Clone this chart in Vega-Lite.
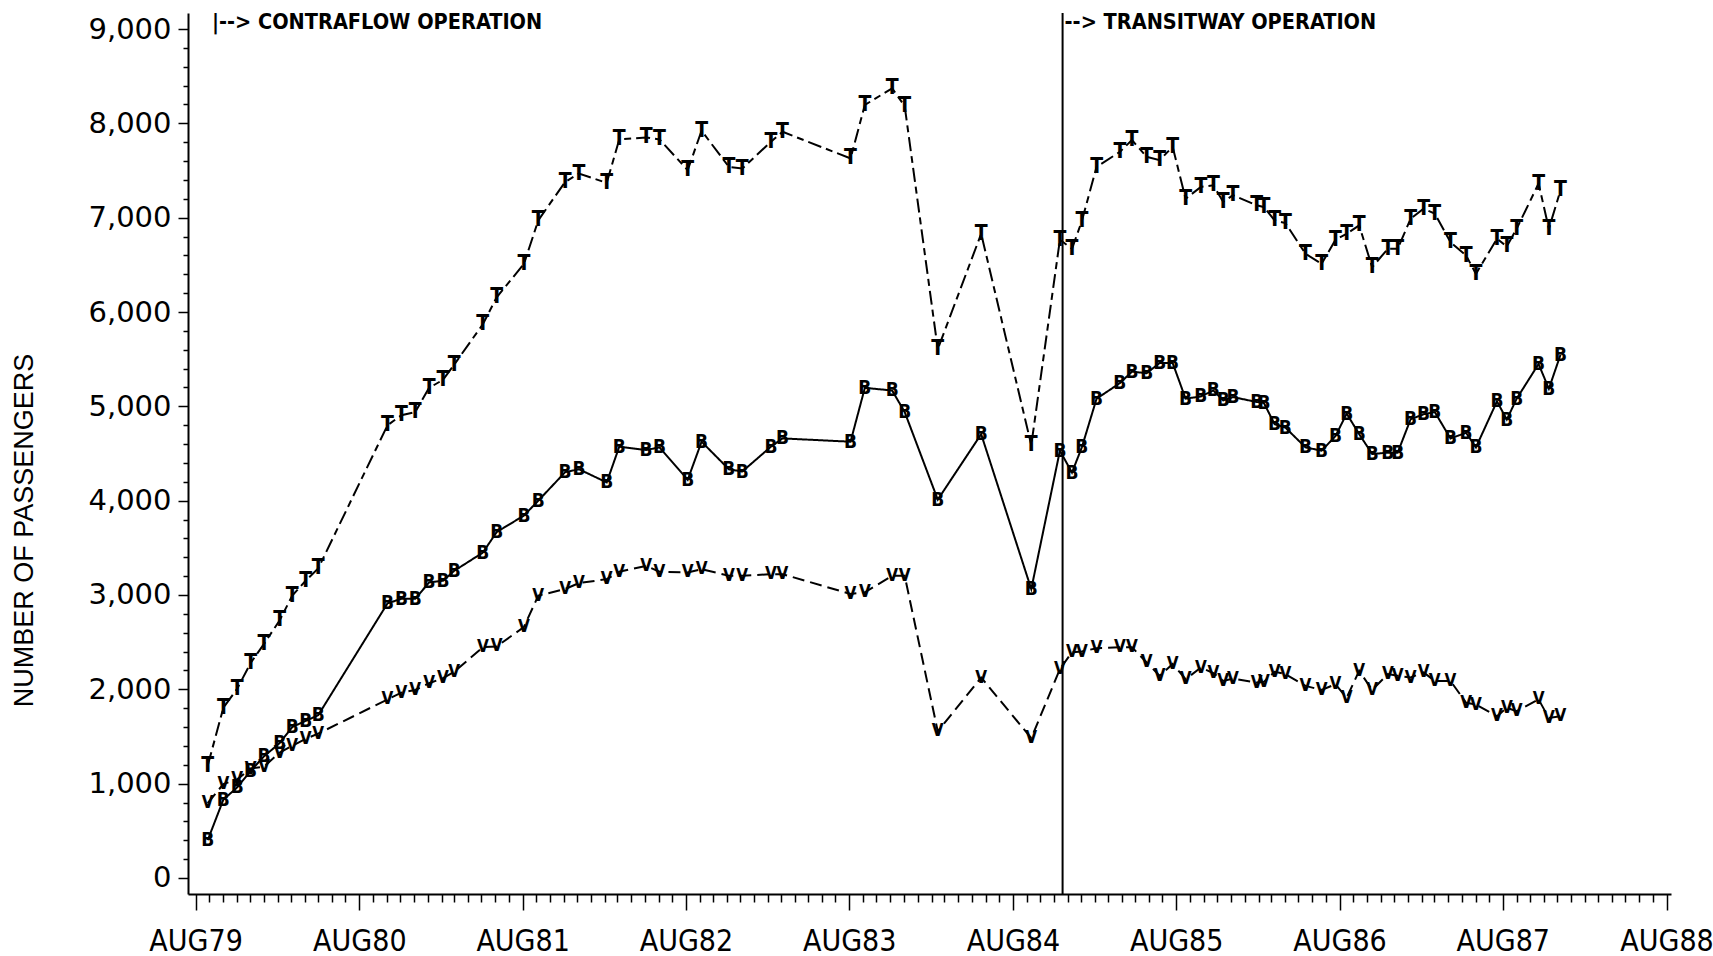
{
  "$schema": "https://vega.github.io/schema/vega-lite/v6.json",
  "width": 1483,
  "height": 881,
  "autosize": {"type": "none"},
  "padding": {"left": 188, "top": 13, "right": 42, "bottom": 62},
  "background": "white",
  "config": {
    "view": {"stroke": null},
    "axis": {"grid": false, "domainColor": "black", "tickColor": "black", "labelColor": "black", "titleColor": "black"}
  },
  "datasets": {
    "events": [
      {"date": "1979-09-02", "kind": "contraflow", "label": "|--> CONTRAFLOW OPERATION"},
      {"date": "1984-11-20", "kind": "transitway", "label": "--> TRANSITWAY OPERATION"}
    ],
    "passengers": [
      {"date":"1979-08-28","series":"T","value":1190},{"date":"1979-10-02","series":"T","value":1804},{"date":"1979-11-02","series":"T","value":2007},{"date":"1979-12-02","series":"T","value":2279},{"date":"1980-01-01","series":"T","value":2482},{"date":"1980-02-05","series":"T","value":2732},{"date":"1980-03-04","series":"T","value":2993},{"date":"1980-04-03","series":"T","value":3151},{"date":"1980-05-01","series":"T","value":3281},
      {"date":"1980-10-03","series":"T","value":4800},{"date":"1980-11-03","series":"T","value":4905},{"date":"1980-12-04","series":"T","value":4940},{"date":"1981-01-04","series":"T","value":5196},{"date":"1981-02-04","series":"T","value":5281},{"date":"1981-03-01","series":"T","value":5442},
      {"date":"1981-05-04","series":"T","value":5870},{"date":"1981-06-04","series":"T","value":6156},{"date":"1981-08-04","series":"T","value":6511},{"date":"1981-09-05","series":"T","value":6972},{"date":"1981-11-04","series":"T","value":7379},{"date":"1981-12-05","series":"T","value":7468},
      {"date":"1982-02-05","series":"T","value":7369},{"date":"1982-03-05","series":"T","value":7830},{"date":"1982-05-04","series":"T","value":7851},{"date":"1982-06-03","series":"T","value":7830},{"date":"1982-08-05","series":"T","value":7504},{"date":"1982-09-05","series":"T","value":7922},{"date":"1982-11-05","series":"T","value":7539},{"date":"1982-12-05","series":"T","value":7521},{"date":"1983-02-07","series":"T","value":7805},{"date":"1983-03-05","series":"T","value":7911},
      {"date":"1983-08-04","series":"T","value":7628},{"date":"1983-09-05","series":"T","value":8195},{"date":"1983-11-05","series":"T","value":8372},{"date":"1983-12-03","series":"T","value":8184},{"date":"1984-02-15","series":"T","value":5607},{"date":"1984-05-22","series":"T","value":6830},{"date":"1984-09-11","series":"T","value":4589},{"date":"1984-11-14","series":"T","value":6766},
      {"date":"1984-12-11","series":"T","value":6670},{"date":"1985-01-02","series":"T","value":6965},{"date":"1985-02-04","series":"T","value":7539},{"date":"1985-03-28","series":"T","value":7698},{"date":"1985-04-24","series":"T","value":7823},{"date":"1985-05-27","series":"T","value":7645},{"date":"1985-06-25","series":"T","value":7610},{"date":"1985-07-24","series":"T","value":7752},{"date":"1985-08-22","series":"T","value":7200},
      {"date":"1985-09-25","series":"T","value":7326},{"date":"1985-10-23","series":"T","value":7344},{"date":"1985-11-14","series":"T","value":7167},{"date":"1985-12-06","series":"T","value":7238},{"date":"1986-01-28","series":"T","value":7131},{"date":"1986-02-13","series":"T","value":7113},{"date":"1986-03-09","series":"T","value":6972},{"date":"1986-04-02","series":"T","value":6943},
      {"date":"1986-05-17","series":"T","value":6617},{"date":"1986-06-22","series":"T","value":6511},{"date":"1986-07-23","series":"T","value":6766},{"date":"1986-08-17","series":"T","value":6830},{"date":"1986-09-14","series":"T","value":6918},{"date":"1986-10-13","series":"T","value":6475},{"date":"1986-11-17","series":"T","value":6670},{"date":"1986-12-09","series":"T","value":6670},
      {"date":"1987-01-07","series":"T","value":6989},{"date":"1987-02-05","series":"T","value":7096},{"date":"1987-03-02","series":"T","value":7043},{"date":"1987-04-06","series":"T","value":6741},{"date":"1987-05-11","series":"T","value":6599},{"date":"1987-06-02","series":"T","value":6404},{"date":"1987-07-19","series":"T","value":6777},{"date":"1987-08-10","series":"T","value":6695},{"date":"1987-09-01","series":"T","value":6883},{"date":"1987-10-20","series":"T","value":7362},{"date":"1987-11-12","series":"T","value":6883},{"date":"1987-12-08","series":"T","value":7291},

      {"date":"1979-08-28","series":"B","value":400},{"date":"1979-10-02","series":"B","value":830},{"date":"1979-11-02","series":"B","value":960},{"date":"1979-12-02","series":"B","value":1135},{"date":"1980-01-01","series":"B","value":1290},{"date":"1980-02-05","series":"B","value":1430},{"date":"1980-03-04","series":"B","value":1600},{"date":"1980-04-03","series":"B","value":1665},{"date":"1980-05-01","series":"B","value":1725},
      {"date":"1980-10-03","series":"B","value":2911},{"date":"1980-11-03","series":"B","value":2960},{"date":"1980-12-04","series":"B","value":2960},{"date":"1981-01-04","series":"B","value":3133},{"date":"1981-02-04","series":"B","value":3151},{"date":"1981-03-01","series":"B","value":3256},
      {"date":"1981-05-04","series":"B","value":3449},{"date":"1981-06-04","series":"B","value":3667},{"date":"1981-08-04","series":"B","value":3842},{"date":"1981-09-05","series":"B","value":4000},{"date":"1981-11-04","series":"B","value":4302},{"date":"1981-12-05","series":"B","value":4333},
      {"date":"1982-02-05","series":"B","value":4193},{"date":"1982-03-05","series":"B","value":4572},{"date":"1982-05-04","series":"B","value":4537},{"date":"1982-06-03","series":"B","value":4565},{"date":"1982-08-05","series":"B","value":4221},{"date":"1982-09-05","series":"B","value":4625},{"date":"1982-11-05","series":"B","value":4333},{"date":"1982-12-05","series":"B","value":4309},{"date":"1983-02-07","series":"B","value":4572},{"date":"1983-03-05","series":"B","value":4660},
      {"date":"1983-08-04","series":"B","value":4625},{"date":"1983-09-05","series":"B","value":5196},{"date":"1983-11-05","series":"B","value":5168},{"date":"1983-12-03","series":"B","value":4940},{"date":"1984-02-15","series":"B","value":4011},{"date":"1984-05-22","series":"B","value":4705},{"date":"1984-09-11","series":"B","value":3063},{"date":"1984-11-14","series":"B","value":4530},
      {"date":"1984-12-11","series":"B","value":4298},{"date":"1985-01-02","series":"B","value":4565},{"date":"1985-02-04","series":"B","value":5081},{"date":"1985-03-28","series":"B","value":5246},{"date":"1985-04-24","series":"B","value":5368},{"date":"1985-05-27","series":"B","value":5351},{"date":"1985-06-25","series":"B","value":5460},{"date":"1985-07-24","series":"B","value":5460},{"date":"1985-08-22","series":"B","value":5081},
      {"date":"1985-09-25","series":"B","value":5105},{"date":"1985-10-23","series":"B","value":5168},{"date":"1985-11-14","series":"B","value":5063},{"date":"1985-12-06","series":"B","value":5098},{"date":"1986-01-28","series":"B","value":5046},{"date":"1986-02-13","series":"B","value":5035},{"date":"1986-03-09","series":"B","value":4811},{"date":"1986-04-02","series":"B","value":4775},
      {"date":"1986-05-17","series":"B","value":4565},{"date":"1986-06-22","series":"B","value":4530},{"date":"1986-07-23","series":"B","value":4684},{"date":"1986-08-17","series":"B","value":4923},{"date":"1986-09-14","series":"B","value":4705},{"date":"1986-10-13","series":"B","value":4495},{"date":"1986-11-17","series":"B","value":4509},{"date":"1986-12-09","series":"B","value":4509},
      {"date":"1987-01-07","series":"B","value":4863},{"date":"1987-02-05","series":"B","value":4916},{"date":"1987-03-02","series":"B","value":4940},{"date":"1987-04-06","series":"B","value":4660},{"date":"1987-05-11","series":"B","value":4719},{"date":"1987-06-02","series":"B","value":4565},{"date":"1987-07-19","series":"B","value":5053},{"date":"1987-08-10","series":"B","value":4860},{"date":"1987-09-01","series":"B","value":5081},{"date":"1987-10-20","series":"B","value":5449},{"date":"1987-11-12","series":"B","value":5186},{"date":"1987-12-08","series":"B","value":5547},

      {"date":"1979-08-28","series":"V","value":793},{"date":"1979-10-02","series":"V","value":995},{"date":"1979-11-02","series":"V","value":1045},{"date":"1979-12-02","series":"V","value":1160},{"date":"1980-01-01","series":"V","value":1180},{"date":"1980-02-05","series":"V","value":1330},{"date":"1980-03-04","series":"V","value":1400},{"date":"1980-04-03","series":"V","value":1475},{"date":"1980-05-01","series":"V","value":1530},
      {"date":"1980-10-03","series":"V","value":1893},{"date":"1980-11-03","series":"V","value":1964},{"date":"1980-12-04","series":"V","value":1993},{"date":"1981-01-04","series":"V","value":2064},{"date":"1981-02-04","series":"V","value":2118},{"date":"1981-03-01","series":"V","value":2186},
      {"date":"1981-05-04","series":"V","value":2446},{"date":"1981-06-04","series":"V","value":2454},{"date":"1981-08-04","series":"V","value":2661},{"date":"1981-09-05","series":"V","value":2993},{"date":"1981-11-04","series":"V","value":3063},{"date":"1981-12-05","series":"V","value":3126},
      {"date":"1982-02-05","series":"V","value":3168},{"date":"1982-03-05","series":"V","value":3246},{"date":"1982-05-04","series":"V","value":3309},{"date":"1982-06-03","series":"V","value":3246},{"date":"1982-08-05","series":"V","value":3239},{"date":"1982-09-05","series":"V","value":3274},{"date":"1982-11-05","series":"V","value":3204},{"date":"1982-12-05","series":"V","value":3204},{"date":"1983-02-07","series":"V","value":3221},{"date":"1983-03-05","series":"V","value":3221},
      {"date":"1983-08-04","series":"V","value":3011},{"date":"1983-09-05","series":"V","value":3028},{"date":"1983-11-05","series":"V","value":3204},{"date":"1983-12-03","series":"V","value":3204},{"date":"1984-02-15","series":"V","value":1554},{"date":"1984-05-22","series":"V","value":2125},{"date":"1984-09-11","series":"V","value":1482},{"date":"1984-11-14","series":"V","value":2214},
      {"date":"1984-12-11","series":"V","value":2393},{"date":"1985-01-02","series":"V","value":2400},{"date":"1985-02-04","series":"V","value":2436},{"date":"1985-03-28","series":"V","value":2446},{"date":"1985-04-24","series":"V","value":2446},{"date":"1985-05-27","series":"V","value":2286},{"date":"1985-06-25","series":"V","value":2143},{"date":"1985-07-24","series":"V","value":2268},{"date":"1985-08-22","series":"V","value":2107},
      {"date":"1985-09-25","series":"V","value":2230},{"date":"1985-10-23","series":"V","value":2171},{"date":"1985-11-14","series":"V","value":2089},{"date":"1985-12-06","series":"V","value":2114},{"date":"1986-01-28","series":"V","value":2071},{"date":"1986-02-13","series":"V","value":2079},{"date":"1986-03-09","series":"V","value":2186},{"date":"1986-04-02","series":"V","value":2161},
      {"date":"1986-05-17","series":"V","value":2036},{"date":"1986-06-22","series":"V","value":1993},{"date":"1986-07-23","series":"V","value":2054},{"date":"1986-08-17","series":"V","value":1911},{"date":"1986-09-14","series":"V","value":2196},{"date":"1986-10-13","series":"V","value":1993},{"date":"1986-11-17","series":"V","value":2161},{"date":"1986-12-09","series":"V","value":2143},
      {"date":"1987-01-07","series":"V","value":2125},{"date":"1987-02-05","series":"V","value":2179},{"date":"1987-03-02","series":"V","value":2089},{"date":"1987-04-06","series":"V","value":2089},{"date":"1987-05-11","series":"V","value":1857},{"date":"1987-06-02","series":"V","value":1839},{"date":"1987-07-19","series":"V","value":1714},{"date":"1987-08-10","series":"V","value":1804},{"date":"1987-09-01","series":"V","value":1768},{"date":"1987-10-20","series":"V","value":1893},{"date":"1987-11-12","series":"V","value":1696},{"date":"1987-12-08","series":"V","value":1714}
    ]
  },
  "encoding": {
    "x": {
      "field": "date",
      "type": "temporal",
      "scale": {
        "type": "utc",
        "domain": [{"year": 1979, "month": 7, "date": 15, "utc": true}, {"year": 1988, "month": 8, "date": 11, "utc": true}]
      },
      "axis": {
        "title": null,
        "orient": "bottom",
        "tickCount": {"interval": "month", "step": 1},
        "tickSize": {"condition": {"test": "utcmonth(datum.value) == 7", "value": 16}, "value": 8},
        "tickWidth": 1.5,
        "domainWidth": 2,
        "labelExpr": "utcmonth(datum.value) == 7 ? upper(utcFormat(datum.value, '%b%y')) : ''",
        "labelOverlap": false,
        "labelFlush": false,
        "labelPadding": 16,
        "labelFont": "DejaVu Sans Condensed, Liberation Sans Narrow, Liberation Sans",
        "labelFontSize": 30,
        "labelFontWeight": "normal"
      }
    }
  },
  "layer": [
    {
      "data": {"name": "events"},
      "transform": [{"filter": "datum.kind == 'transitway'"}],
      "mark": {"type": "rule", "color": "black", "strokeWidth": 2},
      "encoding": {}
    },
    {
      "data": {"name": "passengers"},
      "mark": {"type": "line", "color": "black", "strokeWidth": 2},
      "encoding": {
        "y": {
          "field": "value",
          "type": "quantitative",
          "scale": {"domain": [-170, 9170], "nice": false, "zero": false},
          "axis": {
            "title": "NUMBER OF PASSENGERS",
            "values": [0,200,400,600,800,1000,1200,1400,1600,1800,2000,2200,2400,2600,2800,3000,3200,3400,3600,3800,4000,4200,4400,4600,4800,5000,5200,5400,5600,5800,6000,6200,6400,6600,6800,7000,7200,7400,7600,7800,8000,8200,8400,8600,8800,9000],
            "labelExpr": "datum.value % 1000 == 0 ? format(datum.value, ',') : ''",
            "tickSize": {"condition": {"test": "datum.value % 1000 == 0", "value": 10}, "value": 5},
            "tickWidth": 1.5,
            "domainWidth": 2,
            "labelPadding": 7,
            "labelOverlap": false,
            "labelFont": "DejaVu Sans",
            "labelFontSize": 29,
            "titleFont": "Liberation Sans",
            "titleFontSize": 27,
            "titleFontWeight": "normal",
            "titleAngle": -90,
            "titleAlign": "center",
            "titleBaseline": "middle",
            "titleX": -164,
            "titleY": 517
          }
        },
        "strokeDash": {
          "field": "series",
          "type": "nominal",
          "scale": {"domain": ["T", "B", "V"], "range": [[14, 5, 7, 5], [1, 0], [12, 6]]},
          "legend": null
        }
      }
    },
    {
      "data": {"name": "passengers"},
      "mark": {"type": "text", "color": "black", "font": "DejaVu Sans Condensed, Liberation Sans Narrow, Liberation Sans", "fontWeight": "bold", "align": "center", "baseline": "middle"},
      "encoding": {
        "y": {
          "field": "value",
          "type": "quantitative",
          "scale": {"domain": [-170, 9170], "nice": false, "zero": false},
          "axis": {
            "title": "NUMBER OF PASSENGERS",
            "values": [0,200,400,600,800,1000,1200,1400,1600,1800,2000,2200,2400,2600,2800,3000,3200,3400,3600,3800,4000,4200,4400,4600,4800,5000,5200,5400,5600,5800,6000,6200,6400,6600,6800,7000,7200,7400,7600,7800,8000,8200,8400,8600,8800,9000],
            "labelExpr": "datum.value % 1000 == 0 ? format(datum.value, ',') : ''",
            "tickSize": {"condition": {"test": "datum.value % 1000 == 0", "value": 10}, "value": 5},
            "tickWidth": 1.5,
            "domainWidth": 2,
            "labelPadding": 7,
            "labelOverlap": false,
            "labelFont": "DejaVu Sans",
            "labelFontSize": 29,
            "titleFont": "Liberation Sans",
            "titleFontSize": 27,
            "titleFontWeight": "normal",
            "titleAngle": -90,
            "titleAlign": "center",
            "titleBaseline": "middle",
            "titleX": -164,
            "titleY": 517
          }
        },
        "text": {"field": "series"},
        "size": {"field": "series", "type": "nominal", "scale": {"domain": ["T", "B", "V"], "range": [21, 17, 18]}, "legend": null}
      }
    },
    {
      "data": {"name": "events"},
      "mark": {"type": "text", "color": "black", "font": "DejaVu Sans Condensed, Liberation Sans Narrow, Liberation Sans", "fontWeight": "bold", "fontSize": 21.5, "align": "left", "baseline": "middle", "dx": 2},
      "encoding": {
        "y": {
          "datum": 9060,
          "type": "quantitative",
          "scale": {"domain": [-170, 9170], "nice": false, "zero": false},
          "axis": {
            "title": "NUMBER OF PASSENGERS",
            "values": [0,200,400,600,800,1000,1200,1400,1600,1800,2000,2200,2400,2600,2800,3000,3200,3400,3600,3800,4000,4200,4400,4600,4800,5000,5200,5400,5600,5800,6000,6200,6400,6600,6800,7000,7200,7400,7600,7800,8000,8200,8400,8600,8800,9000],
            "labelExpr": "datum.value % 1000 == 0 ? format(datum.value, ',') : ''",
            "tickSize": {"condition": {"test": "datum.value % 1000 == 0", "value": 10}, "value": 5},
            "tickWidth": 1.5,
            "domainWidth": 2,
            "labelPadding": 7,
            "labelOverlap": false,
            "labelFont": "DejaVu Sans",
            "labelFontSize": 29,
            "titleFont": "Liberation Sans",
            "titleFontSize": 27,
            "titleFontWeight": "normal",
            "titleAngle": -90,
            "titleAlign": "center",
            "titleBaseline": "middle",
            "titleX": -164,
            "titleY": 517
          }
        },
        "text": {"field": "label"}
      }
    }
  ]
}
